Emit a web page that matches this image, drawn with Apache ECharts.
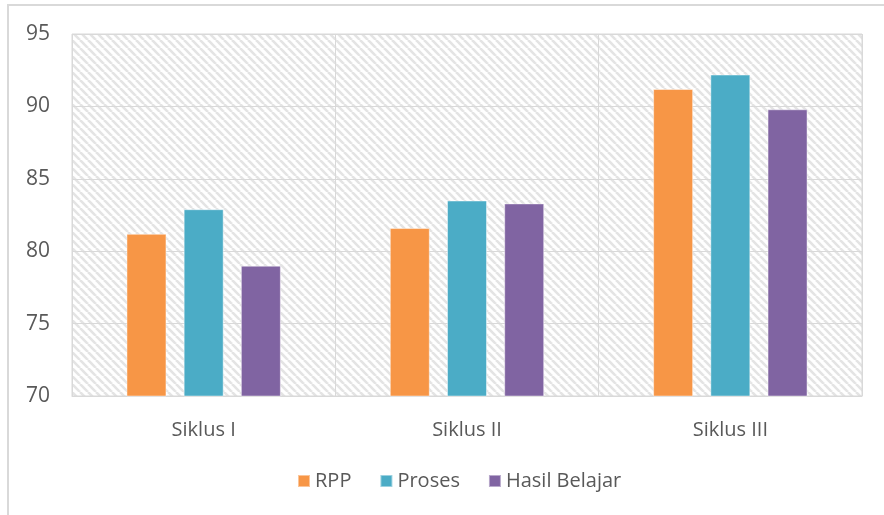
<!DOCTYPE html>
<html>
<head>
<meta charset="utf-8">
<script src="https://cdn.jsdelivr.net/npm/echarts@6/dist/echarts.min.js"></script>
<style>
  html, body { margin: 0; padding: 0; background: #fff; }
  #chart { width: 884px; height: 515px; }
</style>
</head>
<body>
<div id="chart"></div>
<script>
var categories = ['Siklus I', 'Siklus II', 'Siklus III'];
var seriesNames = ['RPP', 'Proses', 'Hasil Belajar'];
var rpp = [81.2, 81.6, 91.2];
var proses = [82.9, 83.5, 92.2];
var hasil = [79.0, 83.3, 89.8];
var colors = ['#F79646', '#4BACC6', '#8064A2'];

// hatched plot background
function makeHatch() {
  var size = 8;
  var c = document.createElement('canvas');
  c.width = size; c.height = size;
  var ctx = c.getContext('2d');
  ctx.fillStyle = '#ffffff';
  ctx.fillRect(0, 0, size, size);
  ctx.strokeStyle = '#e4e4e4';
  ctx.lineWidth = 2.6;
  [-size, 0, size].forEach(function(o) {
    ctx.beginPath();
    ctx.moveTo(o, 0);
    ctx.lineTo(o + size, size);
    ctx.stroke();
  });
  return c;
}

var font = '"Open Sans", "Noto Sans", sans-serif';
var chart = echarts.init(document.getElementById('chart'));

var data = [rpp, proses, hasil];
var series = seriesNames.map(function(name, i) {
  return {
    name: name,
    type: 'bar',
    data: data[i],
    barWidth: 40,
    barGap: '43%',
    itemStyle: { color: colors[i], borderColor: 'rgba(255,255,255,0.45)', borderWidth: 1 }
  };
});

chart.setOption({
  animation: false,
  graphic: [{
    type: 'rect',
    shape: { x: 8, y: 5, width: 900, height: 530 },
    style: { fill: 'none', stroke: '#d9d9d9', lineWidth: 2 },
    silent: true
  }],
  grid: {
    left: 72, right: 22, top: 34, bottom: 119,
    show: true,
    backgroundColor: { image: makeHatch(), repeat: 'repeat' },
    borderColor: '#d9d9d9',
    borderWidth: 1
  },
  legend: {
    data: seriesNames,
    bottom: 19,
    left: 292,
    icon: 'rect',
    itemWidth: 12,
    itemHeight: 12,
    itemGap: 28,
    textStyle: { fontFamily: font, fontSize: 20, color: '#595959' }
  },
  xAxis: {
    type: 'category',
    data: categories,
    axisLine: { lineStyle: { color: '#d9d9d9' } },
    axisTick: { show: false },
    splitLine: { show: true, lineStyle: { color: '#d9d9d9' } },
    axisLabel: { fontFamily: font, fontSize: 20, color: '#595959', margin: 24 }
  },
  yAxis: {
    type: 'value',
    min: 70,
    max: 95,
    interval: 5,
    axisLine: { show: false },
    axisTick: { show: false },
    splitLine: { lineStyle: { color: '#d9d9d9' } },
    axisLabel: { fontFamily: font, fontSize: 21, color: '#595959', margin: 22 }
  },
  series: series
});
</script>
</body>
</html>
